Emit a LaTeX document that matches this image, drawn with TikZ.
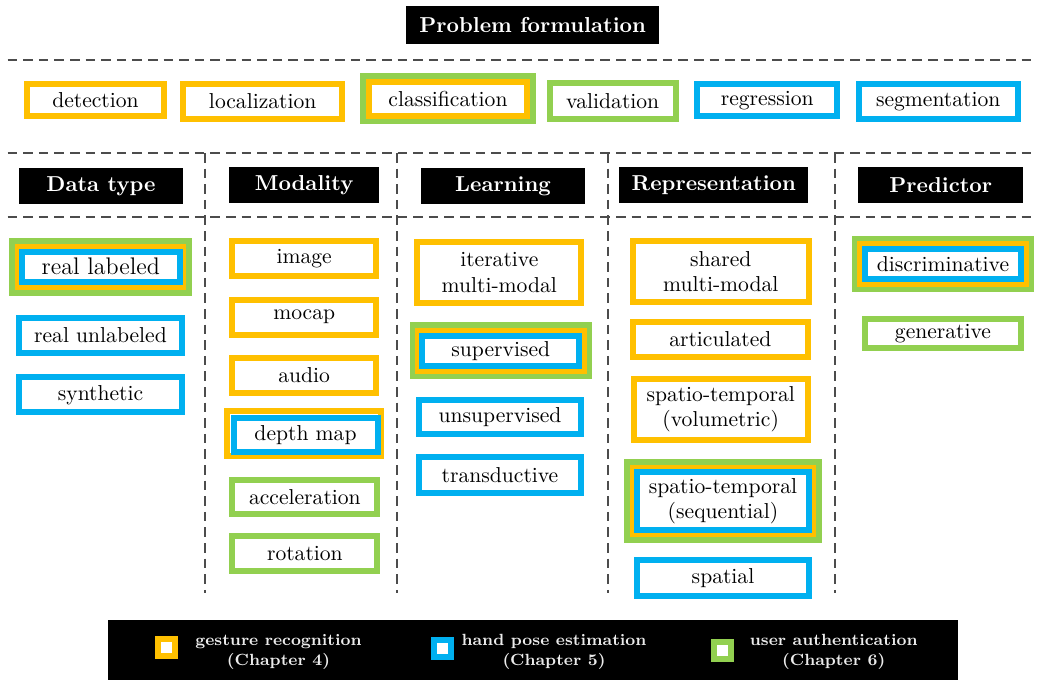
\documentclass[tikz,border=0pt]{standalone}
\usepackage{tikz}
\definecolor{cor}{HTML}{FFC000}
\definecolor{cbl}{HTML}{00B0F0}
\definecolor{cgr}{HTML}{92D050}
\newcommand\mainfs{\fontsize{10.8}{12.6}\selectfont}
\newcommand\bigfs{\fontsize{12}{14}\selectfont}
\newcommand\lgfs{\fontsize{8.1}{10}\selectfont\bfseries}
\begin{document}
\begin{tikzpicture}[x=0.5pt,y=-0.5pt,
  bx/.style n args={3}{draw=#1, line width=3pt, fill=white, rectangle, inner sep=0pt,
     minimum width={(#2-6)*0.5pt}, minimum height={(#3-6)*0.5pt}, align=center, font=\mainfs},
  hd/.style n args={2}{fill=black, text=white, rectangle, inner sep=0pt,
     minimum width={#1*0.5pt}, minimum height={#2*0.5pt}, font=\mainfs\bfseries},
  sep/.style={line width=1pt, draw=black!70, dash pattern=on 4.8pt off 3pt},
  lgsq/.style={draw=#1, line width=3pt, fill=white, rectangle, inner sep=0pt, minimum size=8.5pt},
  lgt/.style={text=white!92!black, font=\lgfs, align=center, inner sep=0pt}
]
\useasboundingbox (0,0) rectangle (1037,680);

% separators
\draw[sep] (7.6,60) -- (1037,60);
\draw[sep] (7.6,153) -- (1037,153);
\draw[sep] (7.6,216.7) -- (1037,216.7);
\draw[sep] (205.3,153) -- (205.3,593);
\draw[sep] (396.7,153) -- (396.7,593);
\draw[sep] (607.5,153) -- (607.5,593);
\draw[sep] (835,153) -- (835,593);

% title
\node[hd={252.7}{38.3}] (title) at (532.7,25.2) {Problem formulation};

% problem row
\node[bx={cor}{143}{38.3}] (det) at (95.5,100.2) {detection};
\node[bx={cor}{164.6}{41}] (loc) at (262.7,101.5) {localization};
\node[bx={cgr}{175.5}{51}] (clsO) at (447.8,98.8) {};
\node[bx={cor}{164}{40}] (cls) at (448,98.7) {classification};
\node[bx={cgr}{132}{42}] (val) at (612.7,101) {validation};
\node[bx={cbl}{145.7}{38.3}] (reg) at (767.2,100.2) {regression};
\node[bx={cbl}{165}{41}] (seg) at (938.2,101.5) {segmentation};

% headers
\node[hd={163.4}{36}] (hData) at (101,186.3) {Data type};
\node[hd={150.3}{36}] (hMod) at (304.2,185.3) {Modality};
\node[hd={164.6}{36}] (hLearn) at (503,186.3) {Learning};
\node[hd={189}{36}] (hRep) at (713.8,185.3) {Representation};
\node[hd={165}{36.6}] (hPred) at (940.8,185) {Predictor};

% data type
\node[bx={cgr}{182.4}{57.4}] (rlG) at (100.5,267) {};
\node[bx={cor}{170.7}{45.7}] (rlO) at (100.3,267.2) {};
\node[bx={cbl}{163.7}{36}, font=\bigfs] (rl) at (100.8,266.7) {real labeled};
\node[bx={cbl}{169.6}{41}] (ru) at (100.5,335.5) {real unlabeled};
\node[bx={cbl}{169.6}{41}] (syn) at (100.5,394.8) {synthetic};

% modality
\node[bx={cor}{150.3}{41}] (img) at (304.2,258.8) {image};
\node[bx={cor}{150.3}{41}] (moc) at (304.2,317.2) {mocap};
\node[bx={cor}{150.3}{41}] (aud) at (304.2,375.5) {audio};
\node[bx={cor}{160}{50.7}] (dmO) at (303.5,433.7) {};
\node[bx={cbl}{150}{40}] (dm) at (305.5,435) {depth map};
\node[bx={cgr}{151}{40.6}] (acc) at (304.9,497) {acceleration};
\node[bx={cgr}{151}{40.7}] (rot) at (304.9,553.7) {rotation};

% learning
\node[bx={cor}{170}{67.6}] (itm) at (499.3,272.5) {iterative\\multi-modal};
\node[bx={cgr}{181.7}{57}] (supG) at (500.8,350.8) {};
\node[bx={cor}{171.7}{46.3}] (supO) at (500.8,350.8) {};
\node[bx={cbl}{163}{36.6}] (sup) at (500.8,351) {supervised};
\node[bx={cbl}{168}{40}] (uns) at (500,416.7) {unsupervised};
\node[bx={cbl}{168}{41.4}] (tra) at (500,475) {transductive};

% representation
\node[bx={cor}{181.7}{67.6}] (smm) at (720.8,271.5) {shared\\multi-modal};
\node[bx={cor}{180.7}{41}] (art) at (720.3,339.5) {articulated};
\node[bx={cor}{180}{66.7}] (vol) at (720.7,409.3) {spatio-temporal\\(volumetric)};
\node[bx={cgr}{197.4}{83.4}] (seqG) at (723,501) {};
\node[bx={cor}{186}{72.3}] (seqO) at (723,501.2) {};
\node[bx={cbl}{178}{64}] (seq) at (723,501.3) {spatio-temporal\\(sequential)};
\node[bx={cbl}{178}{41.4}] (spa) at (723,578) {spatial};

% predictor
\node[bx={cgr}{182}{56.3}] (disG) at (943,264.2) {};
\node[bx={cor}{171.4}{45.4}] (disO) at (943,264) {};
\node[bx={cbl}{162.6}{36.6}] (dis) at (943,264) {discriminative};
\node[bx={cgr}{162.6}{35.3}] (gen) at (943,333.7) {generative};

% legend
\node[fill=black, rectangle, inner sep=0pt, minimum width=425.35pt, minimum height=30pt] (leg) at (533,650) {};
\node[lgsq=cor] (sqO) at (166.5,647.7) {};
\node[lgt] (tO) at (278.5,652) {gesture recognition\\(Chapter 4)};
\node[lgsq=cbl] (sqB) at (442.3,648) {};
\node[lgt] (tB) at (554,652) {hand pose estimation\\(Chapter 5)};
\node[lgsq=cgr] (sqG) at (722.5,650) {};
\node[lgt] (tG) at (833.7,652) {user authentication\\(Chapter 6)};
\end{tikzpicture}
\end{document}
